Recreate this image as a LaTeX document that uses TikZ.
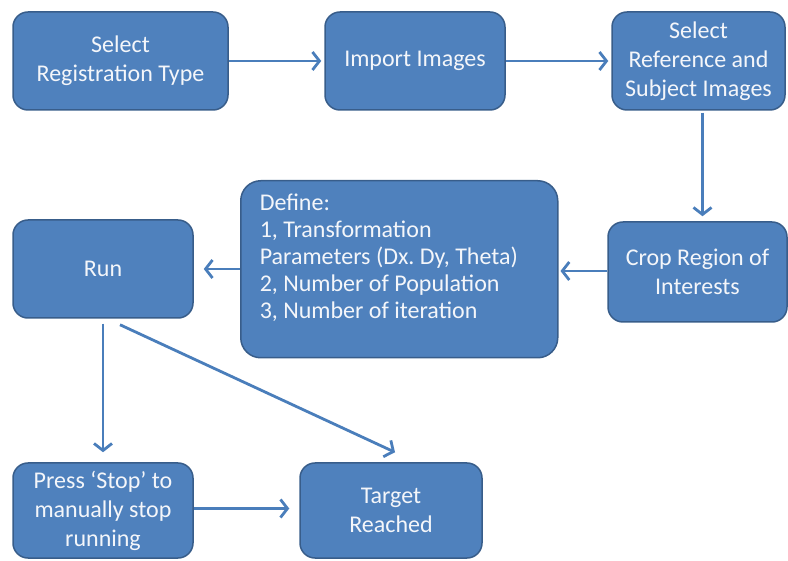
\documentclass[tikz,border=0pt]{standalone}
\usepackage{fontspec}
\setmainfont{Carlito}
\usepackage{tikz}
\usetikzlibrary{arrows.meta}
\definecolor{boxfill}{HTML}{4F81BD}
\definecolor{boxline}{HTML}{385D8A}
\definecolor{arrowblue}{HTML}{4A7EBB}
\definecolor{boxtext}{HTML}{F4F6FA}
\frenchspacing

\begin{document}
\begin{tikzpicture}[x=1pt,y=-1pt,
        stepbox/.style={draw=boxline,fill=boxfill,line width=1.5pt,rounded corners=15pt,
            text=boxtext,align=center,inner sep=0pt,
            font=\fontsize{24}{29}\selectfont},
        arr/.style={draw=arrowblue,line width=2.8pt,
            -{Straight Barb[length=7pt,width=18pt,line width=2.8pt]}}]
        \useasboundingbox (0,0) rectangle (788,561);
        % top row
        \node[stepbox,minimum width=215pt,minimum height=98pt] (sel) at (120.5,61) {Select\\Registration Type};
        \node[stepbox,minimum width=180pt,minimum height=98pt] (imp) at (415,61) {Import Images};
        \node[stepbox,minimum width=173pt,minimum height=98pt] (ref) at (698.5,61) {Select\\Reference and\\Subject Images};
        % middle row
        \node[stepbox,minimum width=179pt,minimum height=100pt] (crop) at (697.5,272) {Crop Region of\\Interests};
        \node[stepbox,anchor=north west,rounded corners=20pt] (def) at (240,180)
            {\parbox[c][177pt][t]{317pt}{\fontsize{24}{27}\selectfont\raggedright
             \leftskip=19pt\vspace*{13pt}Define:\\1, Transformation\\Parameters (Dx. Dy, Theta)\\2, Number of Population\\3, Number of iteration}};
        \node[stepbox,minimum width=180pt,minimum height=98pt] (run) at (103,269) {Run};
        % bottom row
        \node[stepbox,minimum width=180pt,minimum height=95pt] (press) at (103,510.5) {Press ‘Stop’ to\\manually stop\\running};
        \node[stepbox,minimum width=182pt,minimum height=95pt] (target) at (391,510.5) {Target\\Reached};

        \draw[arr,shorten >=3pt] (sel.east) -- (imp.west);
        \draw[arr,shorten >=3pt] (imp.east) -- (ref.west);
        \draw[arr,shorten <=2pt,shorten >=5pt] ([xshift=4pt]ref.south) -- ([xshift=5pt]crop.north);
        \draw[arr,shorten >=2pt] ([yshift=1pt]crop.west) -- ([yshift=1pt]crop.west -| def.east);
        \draw[arr,shorten >=10pt] (run.east -| def.west) -- (run.east);
        \draw[arr,shorten <=5pt,shorten >=10pt] (run.south) -- (press.north);
        \draw[arr] ([xshift=17pt,yshift=-6pt]run.south) -- ([xshift=4pt,yshift=10pt]target.north);
        \draw[arr,shorten >=10pt] ([yshift=2pt]press.east) -- ([yshift=2pt]target.west);
\end{tikzpicture}
\end{document}
